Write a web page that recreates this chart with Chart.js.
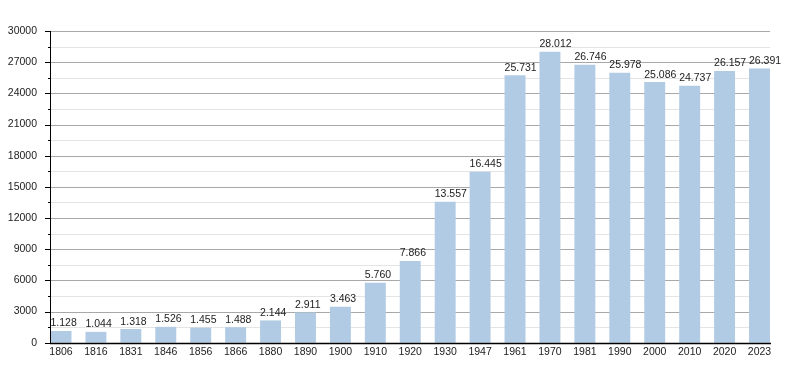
<!DOCTYPE html>
<html>
<head>
<meta charset="utf-8">
<script src="https://cdn.jsdelivr.net/npm/chart.js@4"></script>
<style>
  html, body { margin: 0; padding: 0; background: #fff; }
  #wrap { width: 800px; height: 373px; }
</style>
</head>
<body>
<div id="wrap"><canvas id="popchart"></canvas></div>
<script>
// population by census year
const years = ['1806', '1816', '1831', '1846', '1856', '1866', '1880', '1890', '1900', '1910', '1920', '1930', '1947', '1961', '1970', '1981', '1990', '2000', '2010', '2020', '2023'];
const population = [1128, 1044, 1318, 1526, 1455, 1488, 2144, 2911, 3463, 5760, 7866, 13557, 16445, 25731, 28012, 26746, 25978, 25086, 24737, 26157, 26391];
const yMax = 30000;
const yStep = 3000;

const FONT = '"Liberation Sans", Arial, sans-serif';
const FSIZE = 10.5;
const AXIS_LEFT = 50, AXIS_RIGHT = 770;

function fmt(n) {
    return n.toString().replace(/\B(?=(\d{3})+(?!\d))/g, '.');
}

// grid lines + axis lines span wider than the chart area
const gridPlugin = {
    id: 'gridLines',
    beforeDatasetsDraw(chart) {
        const ctx = chart.ctx;
        const y = chart.scales.y;
        ctx.save();
        ctx.lineWidth = 1;
        for (let v = yStep / 2; v <= yMax; v += yStep / 2) {
            const py = Math.round(y.getPixelForValue(v)) + 0.5;
            const major = v % yStep === 0;
            ctx.strokeStyle = major ? '#a8a8a8' : '#e4e4e4';
            ctx.beginPath();
            ctx.moveTo(AXIS_LEFT, py);
            ctx.lineTo(AXIS_RIGHT, py);
            ctx.stroke();
        }
        ctx.restore();
    },
    afterDatasetsDraw(chart) {
        const ctx = chart.ctx;
        const y = chart.scales.y;
        const top = Math.round(y.getPixelForValue(yMax));
        const bottom = Math.round(y.getPixelForValue(0));
        ctx.save();
        ctx.strokeStyle = '#000';
        ctx.lineWidth = 1;
        // tick marks on the left
        for (let v = 0; v <= yMax; v += yStep / 2) {
            const py = Math.round(y.getPixelForValue(v)) + 0.5;
            const len = v % yStep === 0 ? 5 : 2;
            ctx.beginPath();
            ctx.moveTo(AXIS_LEFT - len, py);
            ctx.lineTo(AXIS_LEFT, py);
            ctx.stroke();
        }
        ctx.beginPath();
        ctx.moveTo(AXIS_LEFT + 0.5, top);
        ctx.lineTo(AXIS_LEFT + 0.5, bottom + 1);
        ctx.stroke();
        ctx.lineWidth = 1.5;
        ctx.beginPath();
        ctx.moveTo(AXIS_LEFT, bottom + 0.5);
        ctx.lineTo(AXIS_RIGHT + 1, bottom + 0.5);
        ctx.stroke();

        // value labels, left aligned with the bar
        ctx.font = FSIZE + 'px ' + FONT;
        ctx.fillStyle = '#222';
        ctx.textAlign = 'left';
        ctx.textBaseline = 'alphabetic';
        chart.getDatasetMeta(0).data.forEach((bar, i) => {
            ctx.fillText(fmt(population[i]), bar.x - bar.width / 2, bar.y - 4.5);
        });
        ctx.restore();
    }
};

new Chart(document.getElementById('popchart'), {
    type: 'bar',
    data: {
        labels: years,
        datasets: [{
            data: population,
            backgroundColor: '#b2cbe4',
            borderWidth: 0,
            categoryPercentage: 1,
            barPercentage: 0.6,
            clip: false
        }]
    },
    options: {
        responsive: true,
        maintainAspectRatio: false,
        animation: false,
        events: [],
        layout: { padding: { top: 31, right: 40.5, left: 0, bottom: 0 } },
        plugins: { legend: { display: false }, tooltip: { enabled: false } },
        scales: {
            x: {
                offset: false,
                grid: { display: false, drawTicks: false },
                border: { display: false },
                ticks: { font: { family: FONT, size: FSIZE }, color: '#222', padding: 3, maxRotation: 0, autoSkip: false },
                afterFit(s) { s.height = 30; }
            },
            y: {
                min: 0,
                max: yMax,
                grid: { display: false, drawTicks: false },
                border: { display: false },
                ticks: {
                    stepSize: yStep,
                    font: { family: FONT, size: FSIZE },
                    color: '#222',
                    padding: 24,
                    callback: (v) => String(v)
                },
                afterFit(s) { s.width = 61; }
            }
        }
    },
    plugins: [gridPlugin]
});
</script>
</body>
</html>
